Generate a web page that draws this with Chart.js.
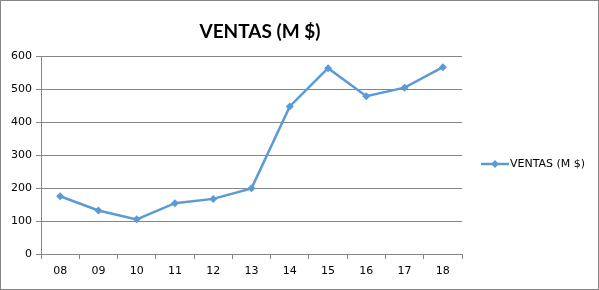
<!DOCTYPE html>
<html lang="es">
<head>
  <meta charset="UTF-8">
  <title>ventas</title>
  <style>
    html, body { margin: 0; padding: 0; background: #fff; }
  </style>
</head>
<body>
  <canvas id="myChart" width="599" height="290"></canvas>

  <script src="https://cdn.jsdelivr.net/npm/chart.js"></script>
  <script>
    const titulo = 'VENTAS (M $)'
    const years = ['08', '09', '10', '11', '12', '13', '14', '15', '16', '17', '18']
    const ventas = [175, 132, 105, 154, 167, 199, 447, 563, 478, 504, 566]
    const yTicks = [0, 100, 200, 300, 400, 500, 600]

    const azul = '#5B9BD5'
    const gris = '#868686'

    // title, legend and outer frame drawn by hand
    const extras = {
      id: 'extras',
      afterDraw(chart) {
        const c = chart.ctx
        c.save()
        c.strokeStyle = gris
        c.lineWidth = 1
        c.strokeRect(0.5, 0.5, 598, 289)

        c.fillStyle = '#000'
        c.font = 'bold 19px Lato, "Open Sans", sans-serif'
        c.textAlign = 'center'
        c.textBaseline = 'middle'
        c.fillText(titulo, 260, 32)

        // legend
        const y = 164
        c.strokeStyle = azul
        c.lineWidth = 2.5
        c.beginPath()
        c.moveTo(481, y)
        c.lineTo(509, y)
        c.stroke()
        c.fillStyle = azul
        c.beginPath()
        c.moveTo(495, y - 4)
        c.lineTo(499, y)
        c.lineTo(495, y + 4)
        c.lineTo(491, y)
        c.closePath()
        c.fill()
        c.fillStyle = '#000'
        c.font = '11px "DejaVu Sans", sans-serif'
        c.textAlign = 'left'
        c.fillText(chart.data.datasets[0].label, 510, y)
        c.restore()
      }
    }

    new Chart(document.getElementById('myChart'), {
      type: 'line',
      data: {
        labels: years,
        datasets: [{
          label: titulo,
          data: ventas,
          borderColor: azul,
          backgroundColor: azul,
          borderWidth: 2.5,
          pointStyle: 'rectRot',
          pointRadius: 4,
          pointBorderWidth: 0,
          tension: 0
        }]
      },
      options: {
        responsive: false,
        animation: false,
        layout: { padding: { left: 0, right: 137, top: 56, bottom: 0 } },
        plugins: {
          legend: { display: false },
          title: { display: false },
          tooltip: { enabled: false }
        },
        scales: {
          x: {
            offset: true,
            afterFit: (s) => { s.height = 36 },
            grid: {
              offset: true,
              drawOnChartArea: false,
              drawTicks: true,
              tickLength: 5,
              color: gris
            },
            border: { color: gris, width: 1 },
            ticks: {
              color: '#000',
              padding: 6,
              maxRotation: 0,
              font: { family: '"DejaVu Sans", sans-serif', size: 11 }
            }
          },
          y: {
            min: 0,
            max: 600,
            afterFit: (s) => { s.width = 41 },
            afterBuildTicks: (s) => { s.ticks = yTicks.map(v => ({ value: v })) },
            grid: { color: gris, tickLength: 5 },
            border: { color: gris, width: 1 },
            ticks: {
              color: '#000',
              padding: 4,
              font: { family: '"DejaVu Sans", sans-serif', size: 11 }
            }
          }
        }
      },
      plugins: [extras]
    })
  </script>
</body>
</html>
